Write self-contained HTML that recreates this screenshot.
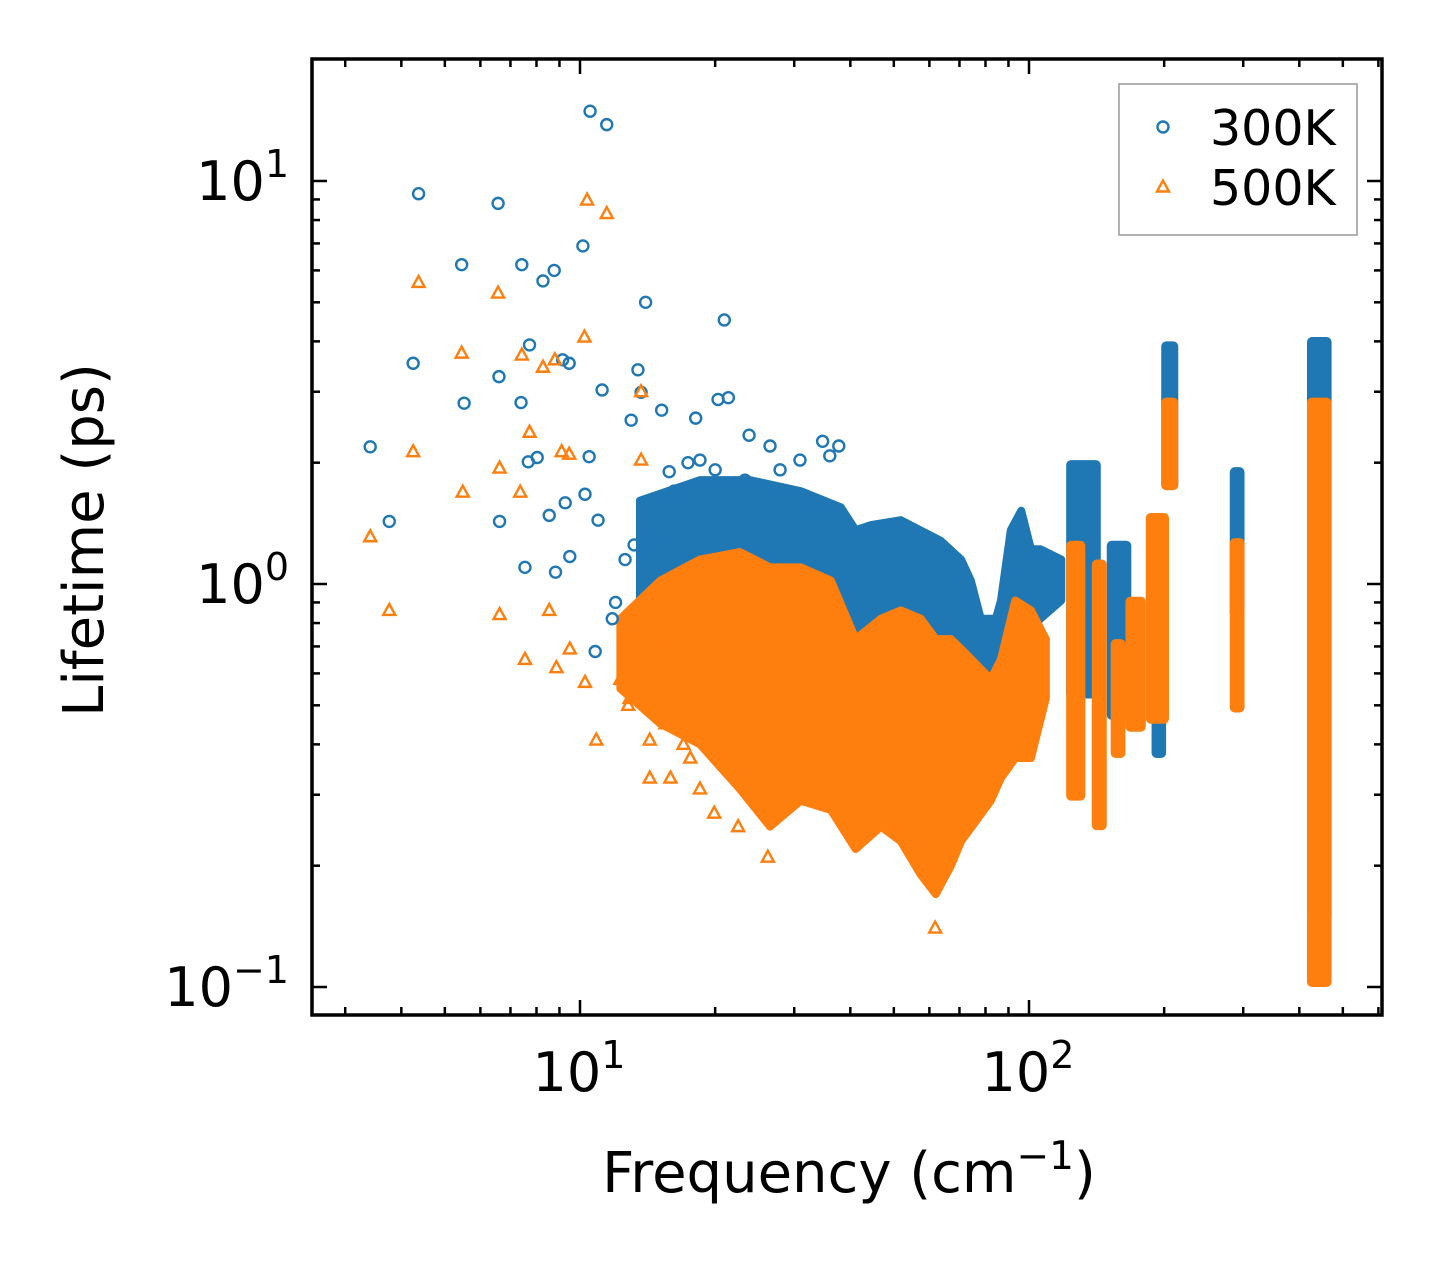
<!DOCTYPE html>
<html><head><meta charset="utf-8"><style>
html,body{margin:0;padding:0;background:#fff;}
svg text{font-family:"DejaVu Sans","Liberation Sans",sans-serif;fill:#000;}
</style></head><body>
<svg id="chart" width="1442" height="1265" viewBox="0 0 1442 1265" xmlns="http://www.w3.org/2000/svg">
<rect width="1442" height="1265" fill="#fff"/>
<g id="bands"></g>
<g id="spikes"></g>
<g id="points"></g>
<g id="axes"></g>
</svg>
<script>
// ---- data ----
const blueFreq = [3.41,3.76,4.25,4.37,5.45,5.52,6.57,6.6,6.62,7.42,7.39,7.54,7.72,7.67,8.03,8.27,8.76,8.54,8.82,9.15,9.46,9.27,9.49,10.15,10.26,10.53,10.48,10.81,10.97,11.47,11.2,14.0,13.0,13.46,13.68,15.2,20.96,20.3,21.4,23.8,34.7,37.7,18.1,26.5,12.0,12.6,11.8,14.6,16.2,17.4,18.5,20.0,23.3,27.9,30.9,32.5,36.0,15.8,13.2];
const blueLife = [2.19,1.43,3.53,9.3,6.2,2.81,8.8,3.27,1.43,6.2,2.82,1.1,3.92,2.01,2.06,5.65,6.0,1.48,1.07,3.6,3.53,1.59,1.17,6.9,1.67,14.9,2.07,0.68,1.44,13.8,3.03,5.0,2.55,3.4,2.99,2.7,4.52,2.87,2.9,2.34,2.26,2.2,2.58,2.2,0.9,1.15,0.82,1.3,1.7,2.0,2.03,1.92,1.81,1.92,2.03,1.61,2.08,1.9,1.25];
const orangeFreq = [3.41,3.76,4.25,4.37,5.45,5.48,6.57,6.62,6.62,7.36,7.42,7.54,7.72,8.27,8.54,8.79,8.86,9.1,9.46,9.49,10.37,10.23,11.47,10.26,10.87,13.68,13.68,14.3,19.9,22.5,26.2,61.8,12.8,15.5,17.0,12.9,14.3,15.9,17.6,18.5,15.1,12.3];
const orangeLife = [1.31,0.86,2.13,5.6,3.74,1.69,5.27,1.94,0.84,1.69,3.7,0.65,2.38,3.45,0.86,3.6,0.62,2.13,2.1,0.69,8.97,4.1,8.3,0.57,0.41,3.0,2.03,0.33,0.27,0.25,0.21,0.14,0.5,0.45,0.4,0.52,0.41,0.33,0.37,0.31,0.73,0.58];
// dense regions: frequency, upper and lower lifetime envelope
const blueBandFreq = [13.6,18.5,23.9,31.0,38.1,41.1,44.5,51.8,63.6,70.6,74.2,78.1,84.4,86.6,91.1,96.1,101,106,118];
const blueBandHi   = [1.61,1.81,1.81,1.70,1.55,1.36,1.40,1.44,1.28,1.15,1.02,0.82,0.82,0.91,1.36,1.52,1.22,1.22,1.15];
const blueBandLo   = [0.68,0.55,0.46,0.55,0.58,0.52,0.41,0.37,0.37,0.43,0.41,0.37,0.49,0.46,0.52,0.69,0.77,0.82,0.91];
const orangeBandFreq = [12.3,15.1,18.5,22.7,26.5,31.0,36.2,41.1,46.8,51.8,57.4,62.0,67.0,70.6,82.2,86.6,93.2,101,109];
const orangeBandHi   = [0.82,1.02,1.15,1.20,1.10,1.10,1.02,0.73,0.82,0.86,0.82,0.73,0.73,0.69,0.58,0.65,0.91,0.86,0.73];
const orangeBandLo   = [0.55,0.45,0.40,0.31,0.25,0.29,0.275,0.22,0.25,0.23,0.19,0.17,0.2,0.23,0.29,0.33,0.37,0.37,0.52];
// narrow vertical clusters: frequency start, end, hi, lo
const blueSpikeF1 = [121,149,187.5,197,280,416];
const blueSpikeF2 = [144.5,169,202,215,302,472];
const blueSpikeHi = [2.03,1.28,0.82,4.0,1.95,4.1];
const blueSpikeLo = [0.52,0.46,0.37,1.71,0.82,0.146];
const orangeSpikeF1 = [121,138,152,164,182,197,280,416];
const orangeSpikeF2 = [133.5,149,164,182,205,215,302,472];
const orangeSpikeHi = [1.28,1.15,0.73,0.93,1.5,2.9,1.3,2.9];
const orangeSpikeLo = [0.29,0.245,0.37,0.43,0.45,1.71,0.48,0.1];
const xTickVals = [10,100];
const xTickLabels = ["1","2"];
const yTickVals = [0.1,1,10];
const yTickLabels = ["\u22121","0","1"];

// ---- scales ----
const L=312,R=1382,T=59,B=1015;
function X(f){return 580+(Math.log10(f)-1)*449;}
function Y(v){return 584-Math.log10(v)*403;}
const NS="http://www.w3.org/2000/svg";
function mk(tag,attrs,parent){const e=document.createElementNS(NS,tag);for(const k in attrs)e.setAttribute(k,attrs[k]);parent.appendChild(e);return e;}
const BLUE="#1f77b4",ORANGE="#ff7f0e";
const gB=document.getElementById('bands'),gS=document.getElementById('spikes'),gP=document.getElementById('points'),gA=document.getElementById('axes');

function band(fr,hi,lo,col,name){
  let pts=[];
  for(let i=0;i<fr.length;i++)pts.push(X(fr[i])+','+Y(hi[i]));
  for(let i=fr.length-1;i>=0;i--)pts.push(X(fr[i])+','+Y(lo[i]));
  const p=mk('polygon',{points:pts.join(' '),fill:col,stroke:col,'stroke-width':8,'stroke-linejoin':'round'},gB);
  
  
}
function spikes(f1,f2,hi,lo,col,name){
  for(let i=0;i<f1.length;i++){
    const r=mk('rect',{x:X(f1[i]),y:Y(hi[i]),width:X(f2[i])-X(f1[i]),height:Y(lo[i])-Y(hi[i]),fill:col,rx:5},gS);
    
    
  }
}
band(blueBandFreq,blueBandHi,blueBandLo,BLUE,'dense-300k');
spikes(blueSpikeF1,blueSpikeF2,blueSpikeHi,blueSpikeLo,BLUE,'cluster-300k');
band(orangeBandFreq,orangeBandHi,orangeBandLo,ORANGE,'dense-500k');
spikes(orangeSpikeF1,orangeSpikeF2,orangeSpikeHi,orangeSpikeLo,ORANGE,'cluster-500k');

function circ(cx,cy,parent){return mk('circle',{cx:cx,cy:cy,r:5.5,fill:'none',stroke:BLUE,'stroke-width':2.4},parent);}
function tri(cx,cy,parent){return mk('polygon',{points:`${cx},${cy-6.5} ${cx-6},${cy+4.5} ${cx+6},${cy+4.5}`,fill:'none',stroke:ORANGE,'stroke-width':2.4,'stroke-linejoin':'miter'},parent);}
for(let i=0;i<blueFreq.length;i++){
  const c=circ(X(blueFreq[i]),Y(blueLife[i]),gP);
  
  
}
for(let i=0;i<orangeFreq.length;i++){
  const t=tri(X(orangeFreq[i]),Y(orangeLife[i]),gP);
  
  
}

// ---- axes ----
const frame=mk('rect',{x:L,y:T,width:R-L,height:B-T,fill:'none',stroke:'#000','stroke-width':3.5},gA);


function tickX(f,len){mk('line',{x1:X(f),x2:X(f),y1:B,y2:B-len,stroke:'#000','stroke-width':2.5},gA);mk('line',{x1:X(f),x2:X(f),y1:T,y2:T+len,stroke:'#000','stroke-width':2.5},gA);}
function tickY(v,len){mk('line',{x1:L,x2:L+len,y1:Y(v),y2:Y(v),stroke:'#000','stroke-width':2.5},gA);mk('line',{x1:R,x2:R-len,y1:Y(v),y2:Y(v),stroke:'#000','stroke-width':2.5},gA);}
for(let d=1;d<=100;d*=10)for(let k=2;k<=9;k++){const f=k*d;if(X(f)>L+2&&X(f)<R-2)tickX(f,8);}
for(let d=0.1;d<=10;d*=10)for(let k=2;k<=9;k++){const v=k*d;if(Y(v)>T+2&&Y(v)<B-2)tickY(v,8);}
xTickVals.forEach((f,i)=>{
  tickX(f,15);
  const t=mk('text',{x:X(f)-1,y:1091,'font-size':54,'text-anchor':'middle'},gA);
  
  
  t.innerHTML='10<tspan dy="-23" font-size="38">'+xTickLabels[i]+'</tspan>';
});
yTickVals.forEach((v,i)=>{
  tickY(v,15);
  const t=mk('text',{x:289,y:Y(v)+19,'font-size':54,'text-anchor':'end'},gA);
  
  
  t.innerHTML='10<tspan dy="-23" font-size="38">'+yTickLabels[i]+'</tspan>';
});
const xl=mk('text',{x:849,y:1192,'font-size':56,'text-anchor':'middle'},gA);


xl.innerHTML='Frequency (cm<tspan dy="-23" font-size="39">\u22121</tspan><tspan dy="23">)</tspan>';
const yl=mk('text',{x:0,y:0,'font-size':56,'text-anchor':'middle',transform:'translate(103,540) rotate(-90)'},gA);


yl.textContent='Lifetime (ps)';

// ---- legend ----
const lg=mk('g',{},gA);


mk('rect',{x:1119,y:84,width:238,height:151,fill:'#fff',stroke:'#999','stroke-width':1.5},lg);
const e1=mk('g',{},lg);


circ(1163,127,e1);
const t1=mk('text',{x:1210,y:145,'font-size':49},e1);t1.textContent='300K';
const e2=mk('g',{},lg);


tri(1163,187,e2);
const t2=mk('text',{x:1210,y:205,'font-size':49},e2);t2.textContent='500K';
</script>
</body></html>
